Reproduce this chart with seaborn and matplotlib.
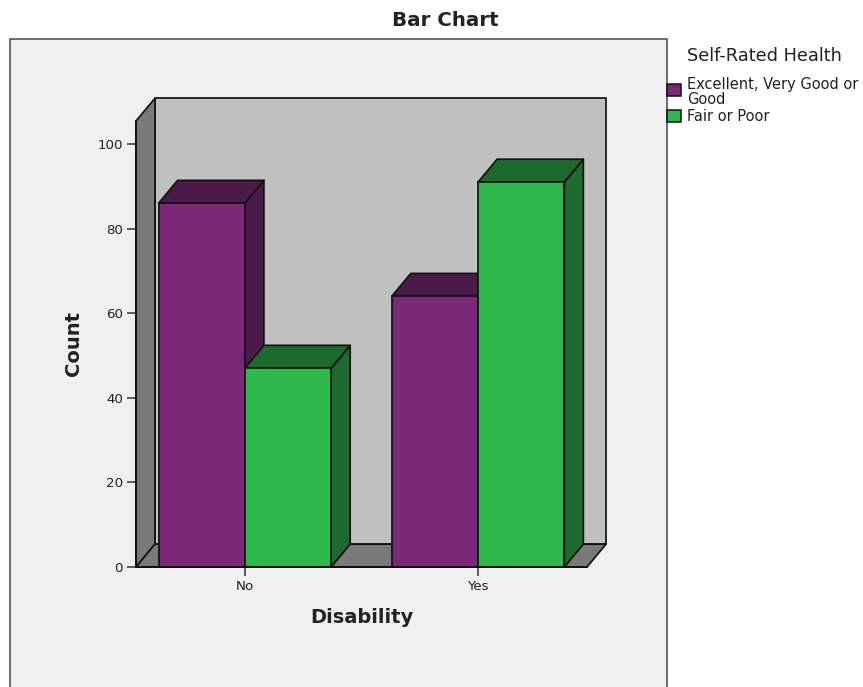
import matplotlib
matplotlib.use("Agg")
import matplotlib.pyplot as plt
from matplotlib.patches import Polygon, Rectangle, Patch
import pandas as pd
import seaborn as sns

disability = ["No", "No", "Yes", "Yes"]
health = ["Excellent, Very Good or\nGood", "Fair or Poor",
          "Excellent, Very Good or\nGood", "Fair or Poor"]
counts = [86, 47, 64, 91]
health_levels = ["Excellent, Very Good or\nGood", "Fair or Poor"]
front_colors = ["#7b2879", "#2fb84b"]
shade_colors = ["#4c1a4a", "#1d6a2d"]
y_ticks = [0, 20, 40, 60, 80, 100]

W, H = 863, 687
TEXT = "#222222"
EDGE = "#111111"
DEPTH_X, DEPTH_Y = 0.0814, 5.4  # extrusion of the 3-D look, in data units
LINE = 1.25

df = pd.DataFrame({"Disability": disability, "Health": health, "Count": counts})

sns.set_theme(style="white", rc={"font.family": "DejaVu Sans"})
fig = plt.figure(figsize=(W / 100, H / 100), dpi=100, facecolor="white")

# Panel behind the plot, open at the lower edge of the figure
fig.add_artist(Rectangle((10 / W, -0.02), 657 / W, 1 - 39 / H + 0.02,
                         transform=fig.transFigure, facecolor="#f0f0f0",
                         edgecolor="#555555", linewidth=1.2, zorder=-5))

ax = fig.add_axes([136 / W, 1 - 567 / H, 451 / W, 446 / H])
ax.patch.set_alpha(0)

sns.barplot(data=df, x="Disability", y="Count", hue="Health",
            hue_order=health_levels, palette=front_colors, saturation=1,
            width=0.74, gap=0, legend=False, ax=ax, zorder=10)
ax.set_xlim(-0.467, 1.467)
ax.set_ylim(0, 446 / 4.23)


def add_poly(points, color, z):
    ax.add_patch(Polygon(points, closed=True, facecolor=color, edgecolor=EDGE,
                         linewidth=LINE, clip_on=False, zorder=z,
                         joinstyle="round"))


# Box walls and floor
x0, x1 = ax.get_xlim()
y1 = ax.get_ylim()[1]
dx, dy = DEPTH_X, DEPTH_Y
add_poly([(x0 + dx, dy), (x1 + dx, dy), (x1 + dx, y1 + dy), (x0 + dx, y1 + dy)], "#c0c0c0", 1)
add_poly([(x0, 0), (x0 + dx, dy), (x0 + dx, y1 + dy), (x0, y1)], "#7a7a7a", 2)
add_poly([(x0, 0), (x1, 0), (x1 + dx, dy), (x0 + dx, dy)], "#7a7a7a", 2)

# Extrude every bar; bars further right are painted over those on their left
bars = []
for level, container in enumerate(ax.containers):
    bars += [(bar, level) for bar in container]
bars.sort(key=lambda item: item[0].get_x())
for order, (bar, level) in enumerate(bars):
    left, w, h = bar.get_x(), bar.get_width(), bar.get_height()
    z = 10 + order * 3
    add_poly([(left + w, 0), (left + w + dx, dy), (left + w + dx, h + dy), (left + w, h)],
             shade_colors[level], z)
    add_poly([(left, h), (left + w, h), (left + w + dx, h + dy), (left + dx, h + dy)],
             shade_colors[level], z + 1)
    bar.set_edgecolor(EDGE)
    bar.set_linewidth(LINE)
    bar.set_clip_on(False)
    bar.set_zorder(z + 2)

# Axes, ticks and labels
sns.despine(ax=ax, top=True, right=True)
for side in ("left", "bottom"):
    ax.spines[side].set_color(EDGE)
    ax.spines[side].set_linewidth(LINE)
    ax.spines[side].set_zorder(30)
ax.set_yticks(y_ticks)
ax.tick_params(axis="both", which="major", length=6.5, width=1.1, color="#333333",
               labelsize=9.6, labelcolor=TEXT, pad=3, left=True, bottom=True)
ax.set_xlabel("Disability", fontsize=14, fontweight="bold", color=TEXT, labelpad=11)
ax.set_ylabel("Count", fontsize=14, fontweight="bold", color=TEXT, labelpad=10.5)

fig.text(445 / W, 1 - 20 / H, "Bar Chart", ha="center", va="center",
         fontsize=14.3, fontweight="bold", color=TEXT)

handles = [Patch(facecolor=c, edgecolor=EDGE, linewidth=1.1, label=l)
           for c, l in zip(front_colors, health_levels)]
legend = ax.legend(handles=handles, loc="upper left",
                   bbox_to_anchor=(667 / W, 1 - 47 / H),
                   bbox_transform=fig.transFigure, frameon=False,
                   title="Self-Rated Health", title_fontsize=12.8, fontsize=10.5,
                   alignment="left", borderpad=0, borderaxespad=0,
                   handlelength=0.95, handleheight=0.95, handletextpad=0.45,
                   labelspacing=0.12, labelcolor=TEXT)
legend.get_title().set_color(TEXT)
legend.get_title().set_position((20, 0))
legend.set_zorder(40)
legend._legend_box.sep = 9
for txt in legend.get_texts():
    txt.set_linespacing(0.98)
# Raise the first swatch so it sits beside the first line of its two-line label
first_swatch = legend.legend_handles[0]
first_swatch.set_y(first_swatch.get_y() + 2.4)

fig.savefig("out.png", dpi=100, facecolor="white")
